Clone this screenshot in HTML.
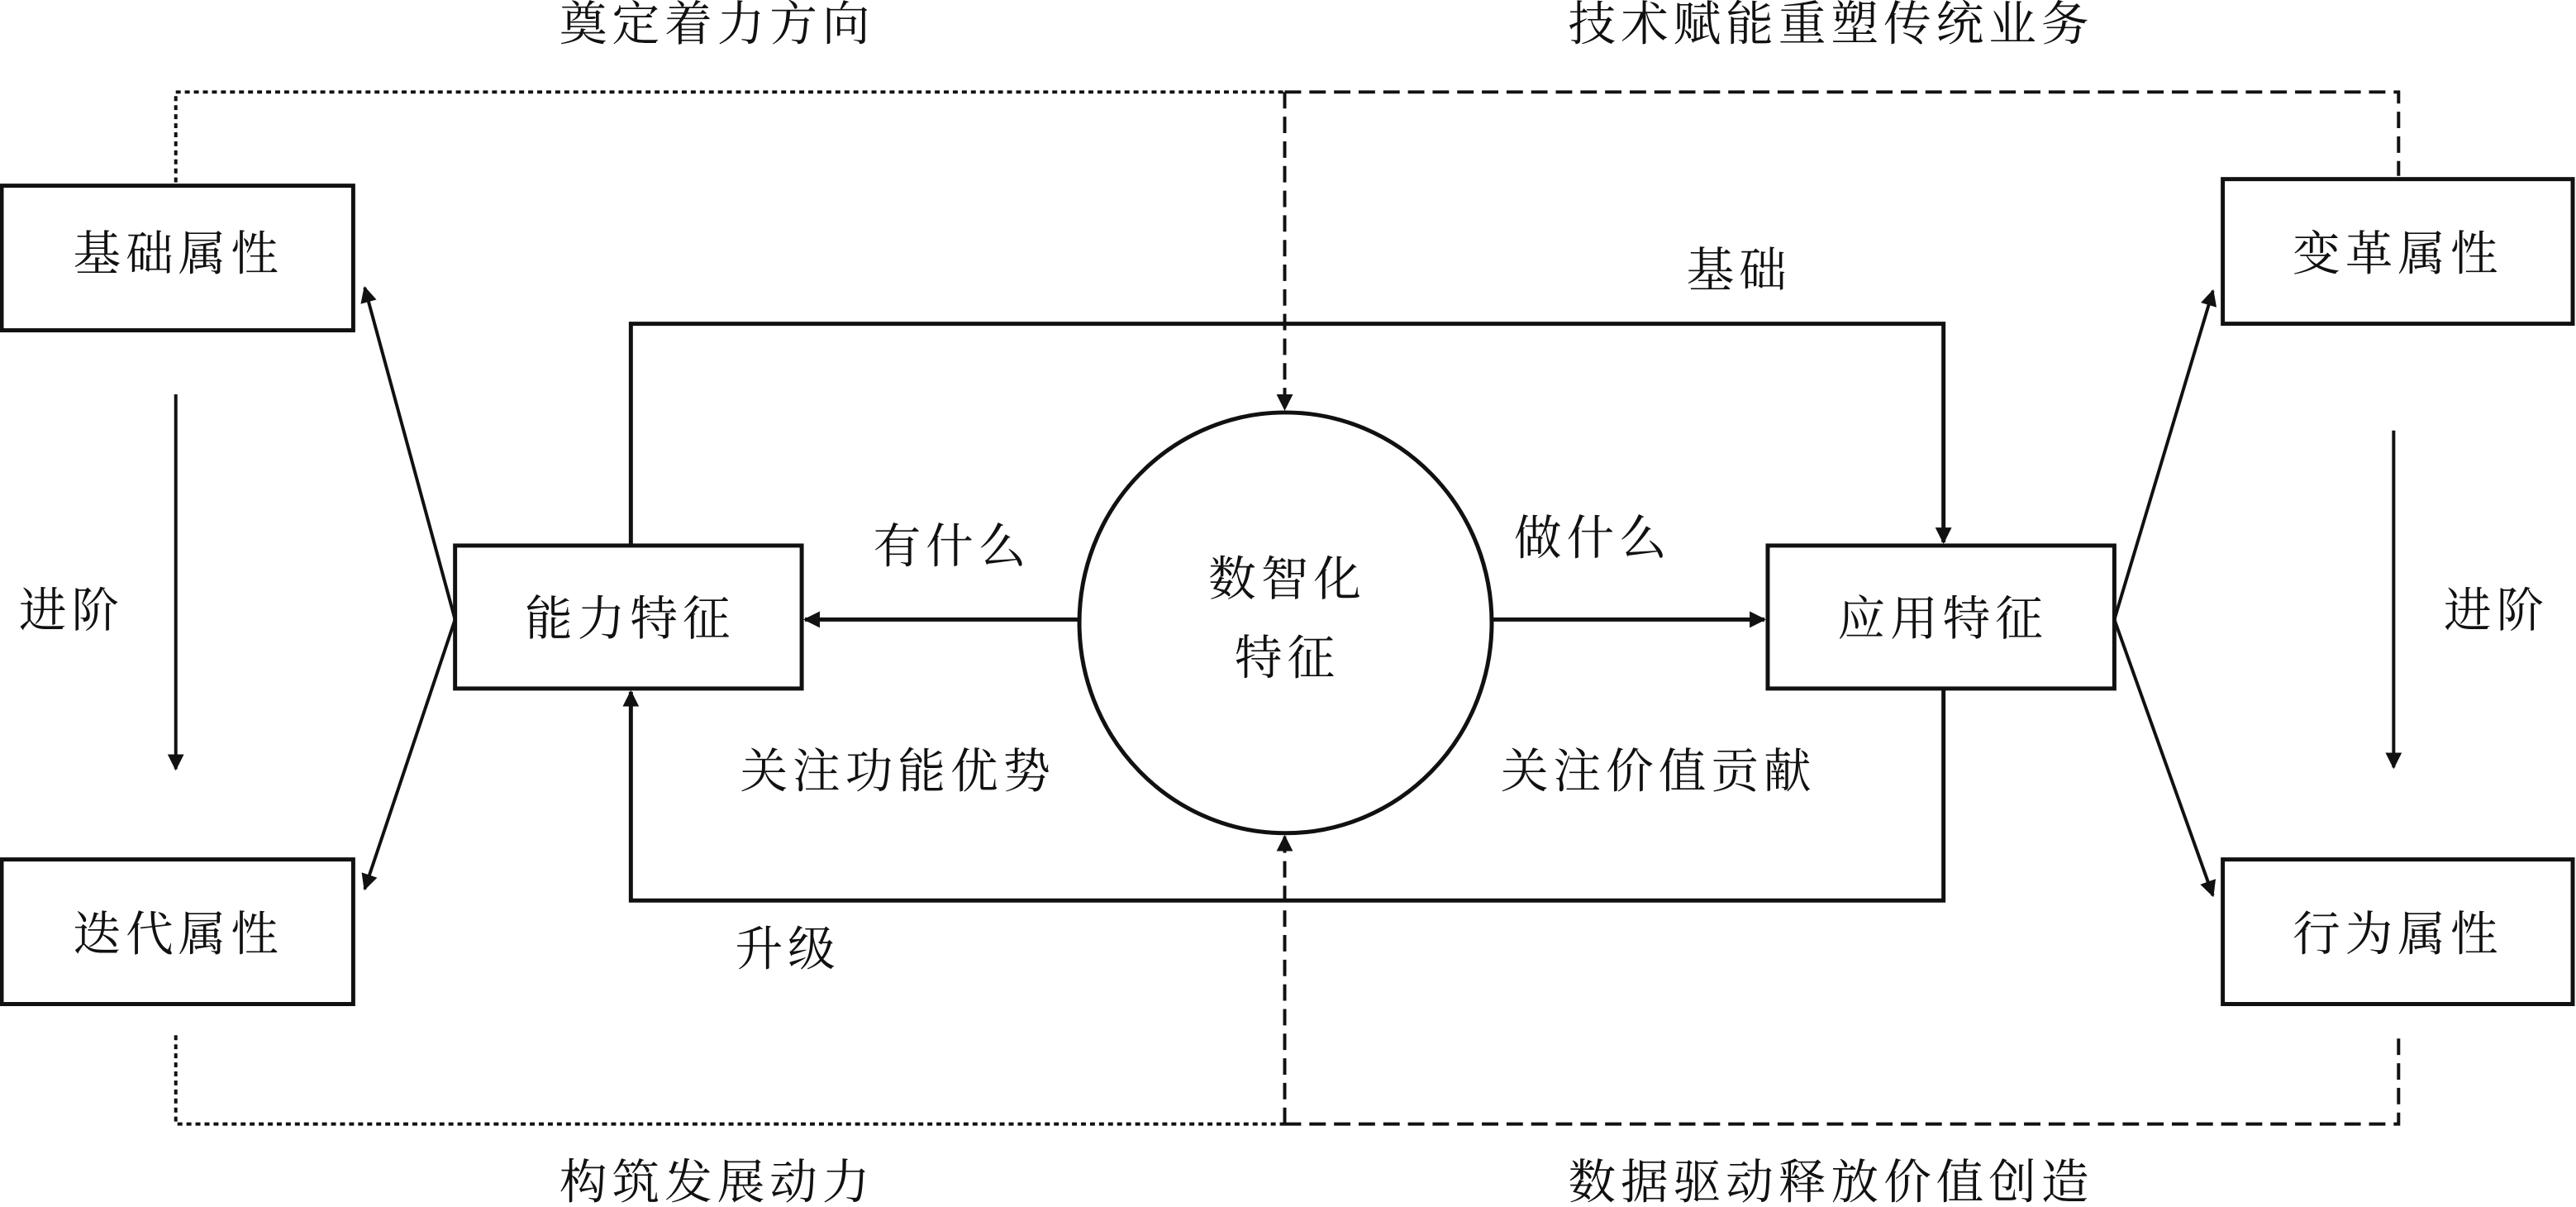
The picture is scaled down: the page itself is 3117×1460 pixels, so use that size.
<!DOCTYPE html>
<html><head><meta charset="utf-8"><style>
html,body{margin:0;padding:0;background:#fff;}
svg{display:block;}
text{font-family:"Liberation Serif","Noto Serif CJK SC","Noto Sans CJK SC",serif;fill:#111;}
</style></head><body>
<svg width="3117" height="1460" viewBox="0 0 1568 734.5" preserveAspectRatio="none" xmlns="http://www.w3.org/2000/svg">
<defs>
<marker id="a" markerWidth="10" markerHeight="10" refX="9" refY="5" orient="auto" markerUnits="userSpaceOnUse">
<path d="M0,0 L10,5 L0,10 z" fill="#111"/></marker>
</defs>
<g fill="none" stroke="#111" stroke-width="2.5">
<rect x="1" y="113" width="214" height="88"/>
<rect x="1" y="523" width="214" height="88"/>
<rect x="1353" y="109" width="213" height="88"/>
<rect x="1353" y="523" width="213" height="88"/>
<rect x="277" y="332" width="211" height="87"/>
<rect x="1076" y="332" width="211" height="87"/>
<ellipse cx="782.5" cy="379" rx="125.5" ry="128"/>
</g>
<g fill="none" stroke="#111" stroke-width="2">
<path d="M107,111 V56 H782" stroke-dasharray="3,2.5"/>
<path d="M782,56 H1460 V107" stroke-dasharray="10,5"/>
<path d="M782,56 V249" stroke-dasharray="10,5" marker-end="url(#a)"/>
<path d="M107,630 V684 H782" stroke-dasharray="3,2.5"/>
<path d="M782,684 H1460 V630" stroke-dasharray="10,5"/>
<path d="M782,684 V509" stroke-dasharray="10,5" marker-end="url(#a)"/>
<path d="M384,332 V197 H1183 V330" stroke-width="2.5" marker-end="url(#a)"/>
<path d="M1183,419 V548 H384 V421" stroke-width="2.5" marker-end="url(#a)"/>
<path d="M657,377 H490" stroke-width="2.5" marker-end="url(#a)"/>
<path d="M908,377 H1074" stroke-width="2.5" marker-end="url(#a)"/>
<path d="M277,377 L222,175" marker-end="url(#a)"/>
<path d="M277,377 L222,541" marker-end="url(#a)"/>
<path d="M1287,377 L1347,177" marker-end="url(#a)"/>
<path d="M1287,377 L1347,545" marker-end="url(#a)"/>
<path d="M107,240 V468" marker-end="url(#a)"/>
<path d="M1457,262 V467" marker-end="url(#a)"/>
</g>
<g font-size="29" letter-spacing="3" text-anchor="middle" dominant-baseline="central">
<text x="108.5" y="155">基础属性</text>
<text x="108.5" y="569">迭代属性</text>
<text x="1459.5" y="155">变革属性</text>
<text x="1459.5" y="569">行为属性</text>
<text x="383.5" y="377">能力特征</text>
<text x="1182.5" y="377">应用特征</text>
<text x="783.5" y="353">数智化</text>
<text x="783.5" y="401">特征</text>
<text x="436.5" y="15">奠定着力方向</text>
<text x="1114.5" y="15">技术赋能重塑传统业务</text>
<text x="436.5" y="720">构筑发展动力</text>
<text x="1114.5" y="720">数据驱动释放价值创造</text>
<text x="1058.5" y="165">基础</text>
<text x="579.5" y="333">有什么</text>
<text x="969.5" y="328">做什么</text>
<text x="546.5" y="470">关注功能优势</text>
<text x="1009.5" y="470">关注价值贡献</text>
<text x="479.5" y="578">升级</text>
<text x="43.5" y="372">进阶</text>
<text x="1519.5" y="372">进阶</text>
</g>
</svg>
</body></html>
